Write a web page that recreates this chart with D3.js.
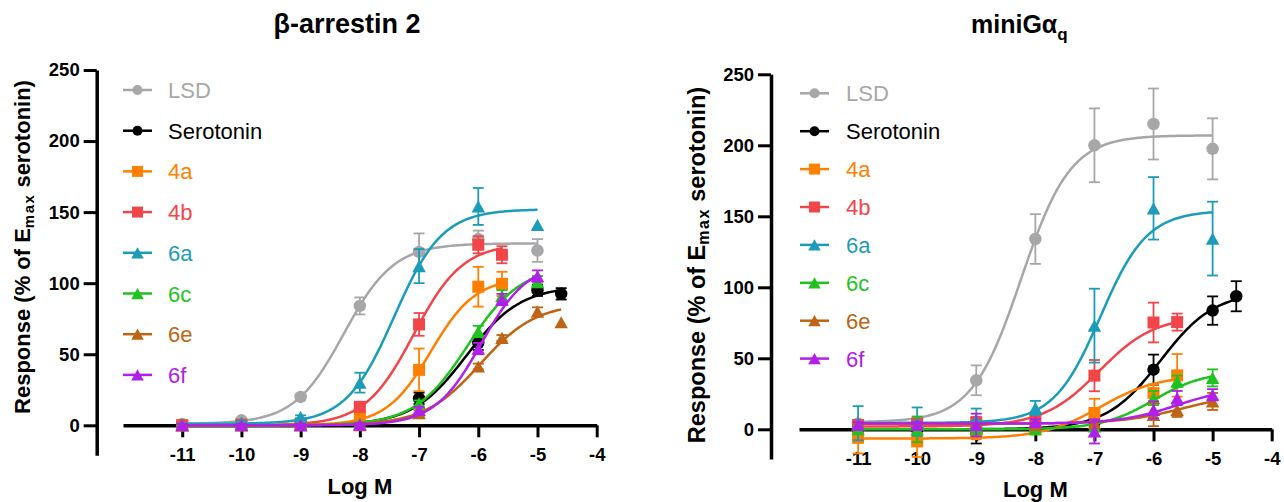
<!DOCTYPE html>
<html><head><meta charset="utf-8">
<script src="https://cdn.jsdelivr.net/npm/d3@7"></script>
<style>body{margin:0;background:#fff}svg{display:block}text{font-family:Arial,"Liberation Sans",sans-serif}</style>
</head><body><svg id="c" width="1284" height="502"></svg>
<script>
// ---------- shared ----------
const seriesNames  = ["LSD","Serotonin","4a","4b","6a","6c","6e","6f"];
const seriesShapes = ["circle","circle","square","square","triangle","triangle","triangle","triangle"];
const seriesColors = ["#a7a7a9","#000000","#ff8000","#f2454a","#1b9cb8","#1fc21f","#bf6414","#b020e8"];
const xTicks = [-11,-10,-9,-8,-7,-6,-5,-4];
const yTicks = [0,50,100,150,200,250];

// ---------- β-arrestin 2 ----------
const arrLogM = [
  [-11,-10,-9,-8,-7,-6,-5],
  [-11,-10,-9,-8,-7,-6,-5,-4.6],
  [-11,-10,-9,-8,-7,-6,-5.6],
  [-11,-10,-9,-8,-7,-6,-5.6],
  [-11,-10,-9,-8,-7,-6,-5],
  [-11,-10,-9,-8,-7,-6,-5.6,-5],
  [-11,-10,-9,-8,-7,-6,-5.6,-5,-4.6],
  [-11,-10,-9,-8,-7,-6,-5.6,-5]
];
const arrMean = [
  [1,3.5,20,84,122,131,123],
  [0,0,0.5,1.5,19,58,95,92.5],
  [0,0,0.5,6,39,97.5,99.5],
  [0,0.5,1,13,71,127,120],
  [0.5,2,6,30,112,154,141],
  [0,0,0,1,15.5,66,91,101],
  [0,0,0,0,8.6,41.4,61.5,80,72.5],
  [0,0,0,0.5,10.9,54,88.5,105]
];
const arrSem = [
  [1,1.5,2,6,13,6,8],
  [1,1,1,1,4,5,4,4],
  [1,1,1,2,15,14,8.5],
  [1,1,1,2,8,6,6],
  [1,1,1,7,12,13,0],
  [1,1,1,1,2,4,4,4],
  [1,1,1,1,2,2,2,3,0],
  [1,1,1,1,2,4,4,4]
];
const arrBottom = [1,0,0,0,1,0,0,0];
const arrTop    = [128,98,104,128,152,112,86,115];
const arrEC50   = [-8.27,-6.2,-6.8,-7.09,-7.42,-6.18,-5.97,-5.95];
const arrHill   = [1.03,0.95,1.15,1.05,1.07,0.97,0.92,1.1];

// ---------- miniGαq ----------
const gqLogM = [
  [-11,-10,-9,-8,-7,-6,-5],
  [-11,-10,-9,-8,-7,-6,-5,-4.6],
  [-11,-10,-9,-8,-7,-6,-5.6],
  [-11,-10,-9,-8,-7,-6,-5.6],
  [-11,-10,-9,-8,-7,-6,-5],
  [-11,-10,-9,-8,-7,-6,-5.6,-5],
  [-11,-10,-9,-8,-7,-6,-5.6,-5],
  [-11,-10,-9,-8,-7,-6,-5.6,-5]
];
const gqMean = [
  [4,4.5,34.5,134,200,215,197.5],
  [0,0,-2,0,5,42,83.6,93.7],
  [-6,-8.5,-2,0,11.5,25.5,38],
  [3,3.8,4.7,7.8,37.8,75.2,75.5],
  [4.3,5.4,6.6,15,73,155.6,134.3],
  [0,0,0,0,2,22,33.8,36.2],
  [3,3,3,3,4.3,10.2,13.7,19.6],
  [3,3,3,5,-1.5,13.7,22,24.3]
];
const gqSem = [
  [2,2,10.5,17.5,26,25,21.5],
  [1,1,8,1,3,10.6,10,10.6],
  [11,11,5,3,10,6,15],
  [3,4,4,3,11,14,6],
  [12,10,8,5,26,22,26],
  [2,9,3,2,3,5,4,6],
  [1,1,1,1,2,8,5,6],
  [2,2,8,2,8.5,6,5,4]
];
const gqBottom = [5,0,-6.5,2,4.5,0,4,4];
const gqTop    = [207,97,38,80,154,41,26,30];
const gqEC50   = [-8.24,-5.88,-6.9,-6.92,-6.9,-6.0,-5.48,-5.6];
const gqHill   = [1.04,0.95,0.9,0.92,1.1,1.0,0.82,0.9];

const svg = d3.select("#c");

function symPath(shape, s) {
  if (shape === "circle") return d3.symbol(d3.symbolCircle, Math.PI*(s/2)*(s/2))();
  if (shape === "square") return d3.symbol(d3.symbolSquare, s*s)();
  const h = s*0.9, w = s;
  return `M0,${-h/2}L${w/2},${h/2}L${-w/2},${h/2}Z`;
}

function panel(o) {
  const g = svg.append("g");
  const x = d3.scaleLinear().domain([-12,-4]).range(o.xr);
  const y = d3.scaleLinear().domain([0,250]).range(o.yr);
  const ymin = -21;
  const fmt = d => String(d);

  // y axis
  const ya = g.append("g").attr("transform",`translate(${o.yaxX},0)`)
    .call(d3.axisLeft(y.copy().domain([ymin,250]).range([y(ymin),y(250)])).tickValues(yTicks).tickFormat(fmt)
      .tickSize(13).tickPadding(4).tickSizeOuter(0));
  ya.select(".domain").attr("stroke","#000").attr("stroke-width",3.5);
  ya.selectAll(".tick line").attr("stroke","#000").attr("stroke-width",3);
  ya.selectAll(".tick text").attr("font-size",18.5).attr("font-weight","bold").attr("fill","#000")
    .attr("font-family",'Arial,"Liberation Sans",sans-serif');

  // x axis at y=0
  const xa = g.append("g").attr("transform",`translate(0,${y(0)})`)
    .call(d3.axisBottom(x).tickValues(xTicks).tickFormat(fmt).tickSize(12).tickPadding(10.5).tickSizeOuter(0));
  xa.select(".domain").attr("stroke","#000").attr("stroke-width",3.5);
  xa.selectAll(".tick line").attr("stroke","#000").attr("stroke-width",3);
  xa.selectAll(".tick text").attr("font-size",18.5).attr("font-weight","bold").attr("fill","#000")
    .attr("font-family",'Arial,"Liberation Sans",sans-serif');

  // axis titles
  g.append("text").attr("x",x(-8)).attr("y",o.logMY).attr("text-anchor","middle")
    .attr("font-size",22).attr("font-weight","bold").text("Log M");
  const yl = g.append("text").attr("transform",`translate(${o.ylX},${o.ylY}) rotate(-90)`)
    .attr("text-anchor","middle").attr("font-size",o.ylFs).attr("font-weight","bold");
  yl.append("tspan").text("Response (% of E");
  yl.append("tspan").attr("font-size",o.ylFs*0.68).attr("dy",4).attr("letter-spacing",1.5).text("max");
  yl.append("tspan").attr("dy",-4).text(" serotonin)");

  // data
  o.names.forEach((nm,i) => {
    const col = seriesColors[i], shape = seriesShapes[i];
    const xs = o.logM[i], ys = o.mean[i], es = o.sem[i];
    const f = v => o.bottom[i] + (o.top[i]-o.bottom[i])/(1+Math.pow(10,(o.ec50[i]-v)*o.hill[i]));
    const x0 = xs[0], x1 = xs[xs.length-1];
    const pts = d3.range(0,201).map(k => x0 + (x1-x0)*k/200);
    g.append("path").datum(pts)
      .attr("d", d3.line().x(v=>x(v)).y(v=>y(f(v))))
      .attr("fill","none").attr("stroke",col).attr("stroke-width",2.5);
    xs.forEach((xv,j) => {
      if (es[j] > 0) {
        const eg = g.append("g").attr("stroke",col).attr("stroke-width",1.8);
        eg.append("line").attr("x1",x(xv)).attr("x2",x(xv)).attr("y1",y(ys[j]-es[j])).attr("y2",y(ys[j]+es[j]));
        [ys[j]-es[j], ys[j]+es[j]].forEach(ev =>
          eg.append("line").attr("x1",x(xv)-5.5).attr("x2",x(xv)+5.5).attr("y1",y(ev)).attr("y2",y(ev)));
      }
      g.append("path").attr("d",symPath(shape, shape==="circle"?12.5:(shape==="square"?12:13.5)))
        .attr("transform",`translate(${x(xv)},${y(ys[j])})`).attr("fill",col);
    });
  });

  // legend
  o.names.forEach((nm,i) => {
    const ly = o.legY + i*o.legStep, col = seriesColors[i];
    g.append("line").attr("x1",o.legX1).attr("x2",o.legX2).attr("y1",ly).attr("y2",ly)
      .attr("stroke",col).attr("stroke-width",2.5);
    g.append("path").attr("d",symPath(seriesShapes[i], seriesShapes[i]==="circle"?10:(seriesShapes[i]==="square"?11:12.5)))
      .attr("transform",`translate(${(o.legX1+o.legX2)/2},${ly})`).attr("fill",col);
    g.append("text").attr("x",o.legTX).attr("y",ly+8).attr("font-size",22).attr("fill",col).text(nm);
  });
}

panel({xr:[123,596.7], yr:[425.3,70], yaxX:96.7, logMY:494, ylX:30, ylY:247, ylFs:22,
  names:seriesNames, logM:arrLogM, mean:arrMean, sem:arrSem, bottom:arrBottom, top:arrTop, ec50:arrEC50, hill:arrHill,
  legY:90, legStep:40.7, legX1:123, legX2:152, legTX:168});
panel({xr:[799,1271.7], yr:[429.3,74.3], yaxX:771, logMY:496.5, ylX:705, ylY:265, ylFs:23.5,
  names:seriesNames, logM:gqLogM, mean:gqMean, sem:gqSem, bottom:gqBottom, top:gqTop, ec50:gqEC50, hill:gqHill,
  legY:93.3, legStep:37.9, legX1:800, legX2:829, legTX:846});

// titles
svg.append("text").attr("x",347).attr("y",33).attr("text-anchor","middle")
  .attr("font-size",27).attr("font-weight","bold").text("β-arrestin 2");
const t2 = svg.append("text").attr("x",971).attr("y",33).attr("font-size",25).attr("font-weight","bold");
t2.append("tspan").text("miniGα");
t2.append("tspan").attr("font-size",17).attr("dy",7).text("q");
</script></body></html>
